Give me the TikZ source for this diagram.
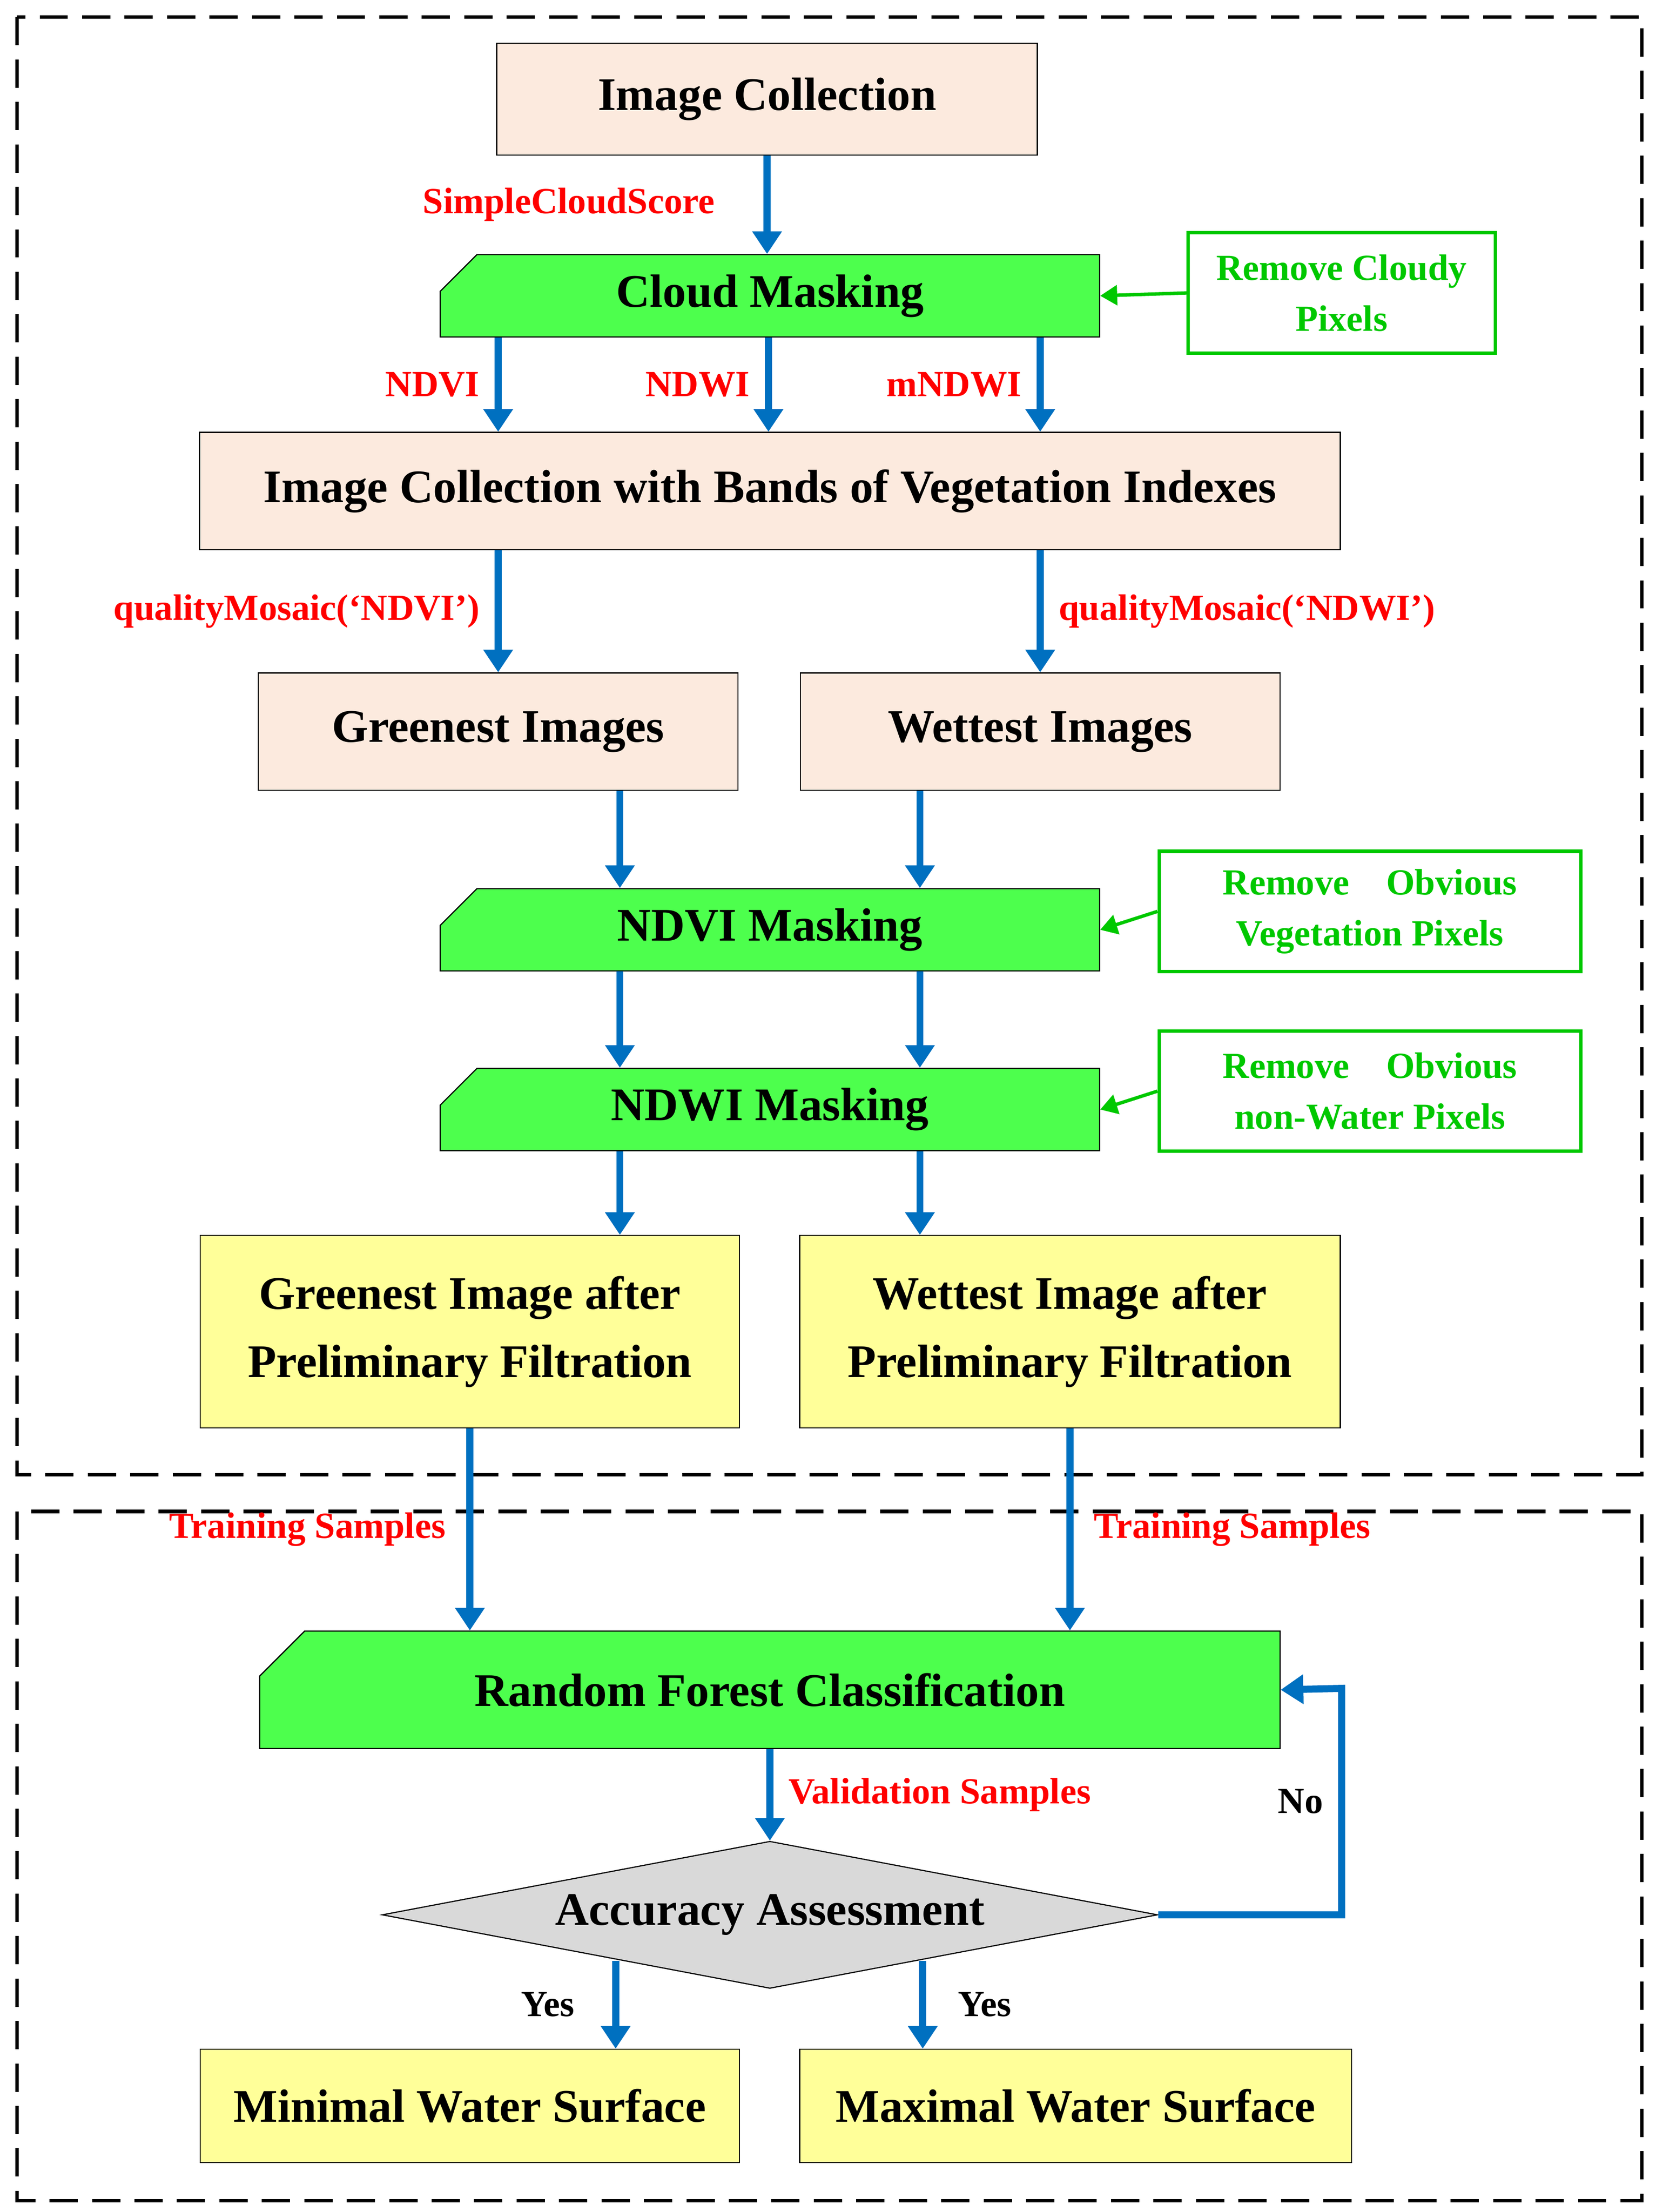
\documentclass[tikz,border=0pt]{standalone}
\usepackage{fontspec}
\setmainfont{Liberation Serif}
\usetikzlibrary{arrows.meta, shapes.geometric, shapes.misc}
\definecolor{peach}{RGB}{252,234,222}
\definecolor{lgreen}{RGB}{77,255,77}
\definecolor{lyellow}{RGB}{255,255,153}
\definecolor{arrowblue}{RGB}{0,112,192}
\definecolor{txtgreen}{RGB}{0,200,0}
\tikzset{
  box/.style={draw, inner sep=0pt, align=center, font=\fontsize{16.5}{24}\selectfont\bfseries},
  mask/.style={box, fill=lgreen, chamfered rectangle, chamfered rectangle corners=north west, chamfered rectangle xsep=6pt, chamfered rectangle ysep=7pt},
  note/.style={draw=txtgreen, line width=1.2pt, text=txtgreen, inner sep=0pt, align=center, font=\fontsize{13}{18}\selectfont\bfseries},
  lbl/.style={text=red, font=\fontsize{13}{16}\selectfont\bfseries},
  yn/.style={font=\fontsize{13}{16}\selectfont\bfseries},
  flow/.style={draw=arrowblue, line width=2.5pt, -{Triangle[length=8pt,width=10pt]}},
  side/.style={draw=txtgreen, line width=1.2pt, -{Triangle[length=6pt,width=7pt]}},
  frame/.style={line width=1.2pt, dash pattern=on 10pt off 5pt}
}
\begin{document}
\begin{tikzpicture}[x=0.5pt, y=-0.5pt]
  \useasboundingbox (0,0) rectangle (1170,1563);
  \draw[frame] (12,12) rectangle (1160,1042);
  \draw[frame] (12,1068) rectangle (1160,1555);

  \node[box, fill=peach, minimum width=191pt, minimum height=39.5pt] (ic) at (542,70) {Image Collection};
  \node[mask, minimum width=233pt, minimum height=29pt] (cm) at (544,209) {Cloud Masking};
  \node[note, minimum width=108.5pt, minimum height=42.5pt] (rc) at (948,207) {Remove Cloudy\\Pixels};
  \node[box, fill=peach, minimum width=403pt, minimum height=41.5pt] (bands) at (544,347) {Image Collection with Bands of Vegetation Indexes};
  \node[box, fill=peach, minimum width=169.5pt, minimum height=41.5pt] (green) at (352,517) {Greenest Images};
  \node[box, fill=peach, minimum width=169.5pt, minimum height=41.5pt] (wet) at (735,517) {Wettest Images};
  \node[mask, minimum width=233pt, minimum height=29pt] (ndvi) at (544,657) {NDVI Masking};
  \node[note, minimum width=149pt, minimum height=42.5pt] (rv) at (968,644) {Remove\quad Obvious\\Vegetation Pixels};
  \node[mask, minimum width=233pt, minimum height=29pt] (ndwi) at (544,784) {NDWI Masking};
  \node[note, minimum width=149pt, minimum height=42.5pt] (rw) at (968,771) {Remove\quad Obvious\\non-Water Pixels};
  \node[box, fill=lyellow, minimum width=190.5pt, minimum height=68pt] (gf) at (332,941) {Greenest Image after\\Preliminary Filtration};
  \node[box, fill=lyellow, minimum width=191pt, minimum height=68pt] (wf) at (756,941) {Wettest Image after\\Preliminary Filtration};
  \node[mask, chamfered rectangle xsep=9pt, chamfered rectangle ysep=10pt, minimum width=360.5pt, minimum height=41.5pt] (rf) at (544,1194) {Random Forest Classification};
  \node[box, diamond, fill=black!15, shape aspect=5.3, minimum width=274pt, minimum height=52pt] (acc) at (544,1353) {Accuracy Assessment};
  \node[box, fill=lyellow, minimum width=190.5pt, minimum height=40pt] (minw) at (332,1488) {Minimal Water Surface};
  \node[box, fill=lyellow, minimum width=195pt, minimum height=40pt] (maxw) at (760,1488) {Maximal Water Surface};
  \coordinate (turn1) at (948,1353);
  \coordinate (turn2) at (948,1193);

  \draw[flow] (ic.south -| 542,0) -- node[lbl, left=14pt] {SimpleCloudScore} (cm.north -| 542,0);
  \draw[flow] (cm.south -| 352,0) -- node[lbl, left=2pt] {NDVI} (bands.north -| 352,0);
  \draw[flow] (cm.south -| 543,0) -- node[lbl, left=2pt] {NDWI} (bands.north -| 543,0);
  \draw[flow] (cm.south -| 735,0) -- node[lbl, left=2pt] {mNDWI} (bands.north -| 735,0);
  \draw[flow] (bands.south -| 352,0) -- node[lbl, left=2pt] {qualityMosaic(‘NDVI’)} (green.north -| 352,0);
  \draw[flow] (bands.south -| 735,0) -- node[lbl, right=2pt] {qualityMosaic(‘NDWI’)} (wet.north -| 735,0);
  \draw[flow] (green.south -| 438,0) -- (ndvi.north -| 438,0);
  \draw[flow] (wet.south -| 650,0) -- (ndvi.north -| 650,0);
  \draw[flow] (ndvi.south -| 438,0) -- (ndwi.north -| 438,0);
  \draw[flow] (ndvi.south -| 650,0) -- (ndwi.north -| 650,0);
  \draw[flow] (ndwi.south -| 438,0) -- (gf.north -| 438,0);
  \draw[flow] (ndwi.south -| 650,0) -- (wf.north -| 650,0);
  \draw[flow] (gf.south) -- node[lbl, left=4pt] {Training Samples} (rf.north -| gf.south);
  \draw[flow] (wf.south) -- node[lbl, right=4pt] {Training Samples} (rf.north -| wf.south);
  \draw[flow] (rf.south) -- node[lbl, right=2pt] {Validation Samples} (acc.north);
  \draw[flow] (acc.east) -- (turn1) -- node[yn, left=2pt] {No} (turn2) -- (rf.east);
  \draw[flow] (acc.south -| 435,0) ++(0,-20) -- node[yn, left=10pt] {Yes} (minw.north -| 435,0);
  \draw[flow] (acc.south -| 652,0) ++(0,-20) -- node[yn, right=8pt] {Yes} (maxw.north -| 652,0);
  \draw[side] (rc.west) -- (cm.east);
  \draw[side] (rv.west) -- (ndvi.east);
  \draw[side] (rw.west) -- (ndwi.east);
\end{tikzpicture}
\end{document}
